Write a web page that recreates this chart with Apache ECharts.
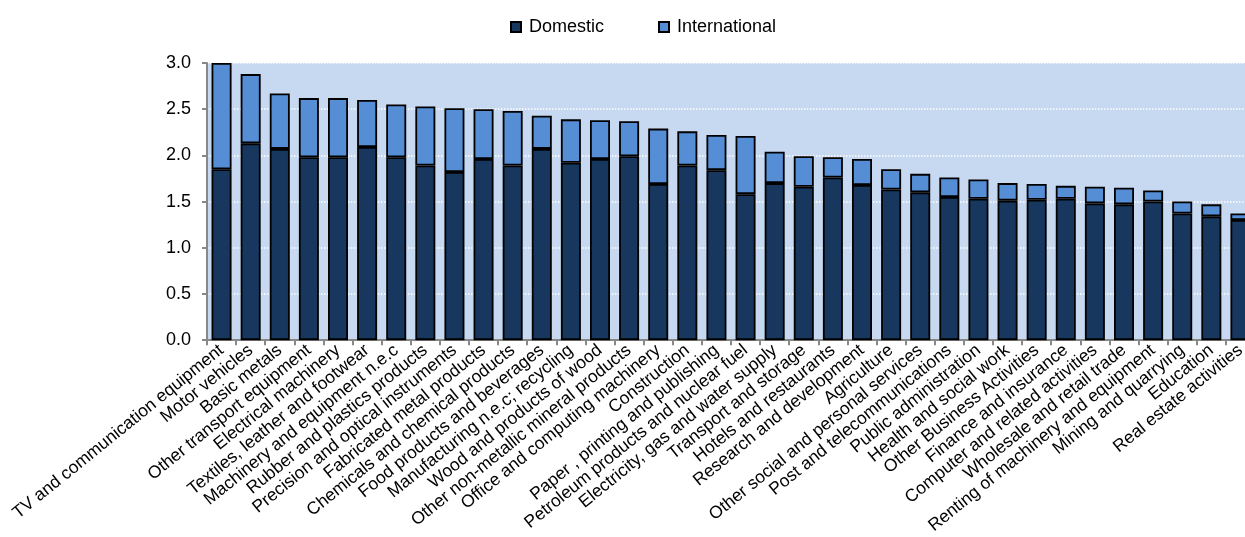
<!DOCTYPE html>
<html>
<head>
<meta charset="utf-8">
<script src="https://cdn.jsdelivr.net/npm/echarts@6/dist/echarts.min.js"></script>
<style>
html,body{margin:0;padding:0;overflow:hidden;background:#fff;width:1245px;height:537px;}
#chart{width:1256px;height:537px;}
</style>
</head>
<body>
<div id="chart"></div>
<script>
const categories = [
  "TV and communication equipment","Motor vehicles","Basic metals","Other transport equipment",
  "Electrical machinery","Textiles, leather and footwear","Machinery and equipment n.e.c",
  "Rubber and plastics products","Precision and optical instruments","Fabricated metal products",
  "Chemicals and chemical products","Food products and beverages","Manufacturing n.e.c; recycling",
  "Wood and products of wood","Other non-metallic mineral products","Office and computing machinery",
  "Construction","Paper , printing and publishing","Petroleum products and nuclear fuel",
  "Electricity, gas and water supply","Transport and storage","Hotels and restaurants",
  "Research and development","Agriculture","Other social and personal services",
  "Post and telecommunications","Public administration","Health and social work",
  "Other Business Activities","Finance and insurance","Computer and related activities",
  "Wholesale and retail trade","Renting of machinery and equipment","Mining and quarrying",
  "Education","Real estate activities"
];
const domestic = [1.85,2.13,2.07,1.98,1.98,2.09,1.98,1.89,1.82,1.96,1.89,2.07,1.92,1.96,1.99,1.69,1.89,1.84,1.58,1.70,1.66,1.76,1.68,1.63,1.60,1.55,1.53,1.51,1.52,1.53,1.48,1.47,1.50,1.37,1.34,1.30];
const international = [1.15,0.75,0.60,0.64,0.64,0.51,0.57,0.64,0.69,0.54,0.59,0.36,0.47,0.42,0.38,0.60,0.37,0.38,0.63,0.34,0.33,0.22,0.28,0.22,0.20,0.21,0.21,0.19,0.17,0.14,0.18,0.18,0.12,0.13,0.13,0.07];
const seriesNames = ["Domestic","International"];

const chart = echarts.init(document.getElementById('chart'));
const font = '"Liberation Sans", Arial, sans-serif';
chart.setOption({
  animation: false,
  textStyle: { fontFamily: font },
  legend: {
    left: 505, top: 13, icon: 'rect',
    itemWidth: 10, itemHeight: 10, itemGap: 54,
    textStyle: { fontSize: 18, color: '#000', fontFamily: font, padding: [0,0,0,3] },
    data: seriesNames
  },
  grid: {
    left: 207, right: 1, top: 63, bottom: 194,
    show: true, backgroundColor: '#c6d9f0', borderWidth: 0
  },
  xAxis: {
    type: 'category',
    data: categories,
    axisLine: { lineStyle: { color: '#888', width: 2 } },
    axisTick: { show: true, length: 5, lineStyle: { color: '#888', width: 2 } },
    axisLabel: { interval: 0, rotate: 39, fontSize: 17.5, color: '#000', margin: 8, fontFamily: font }
  },
  yAxis: {
    type: 'value',
    min: 0, max: 3, interval: 0.5,
    axisLine: { show: true, lineStyle: { color: '#888', width: 2 } },
    axisTick: { show: true, length: 5, lineStyle: { color: '#888', width: 2 } },
    axisLabel: { fontSize: 18, color: '#000', margin: 16, fontFamily: font,
      formatter: v => v.toFixed(1) },
    splitLine: { show: true, lineStyle: { color: '#fff', type: 'dotted', width: 1.5 } }
  },
  series: [
    { name: seriesNames[0], type: 'bar', stack: 'total', barWidth: 20, data: domestic,
      itemStyle: { color: '#17375e', borderColor: '#000', borderWidth: 1.8 } },
    { name: seriesNames[1], type: 'bar', stack: 'total', barWidth: 20, data: international,
      itemStyle: { color: '#558ed5', borderColor: '#000', borderWidth: 1.8 } }
  ]
});
</script>
</body>
</html>
